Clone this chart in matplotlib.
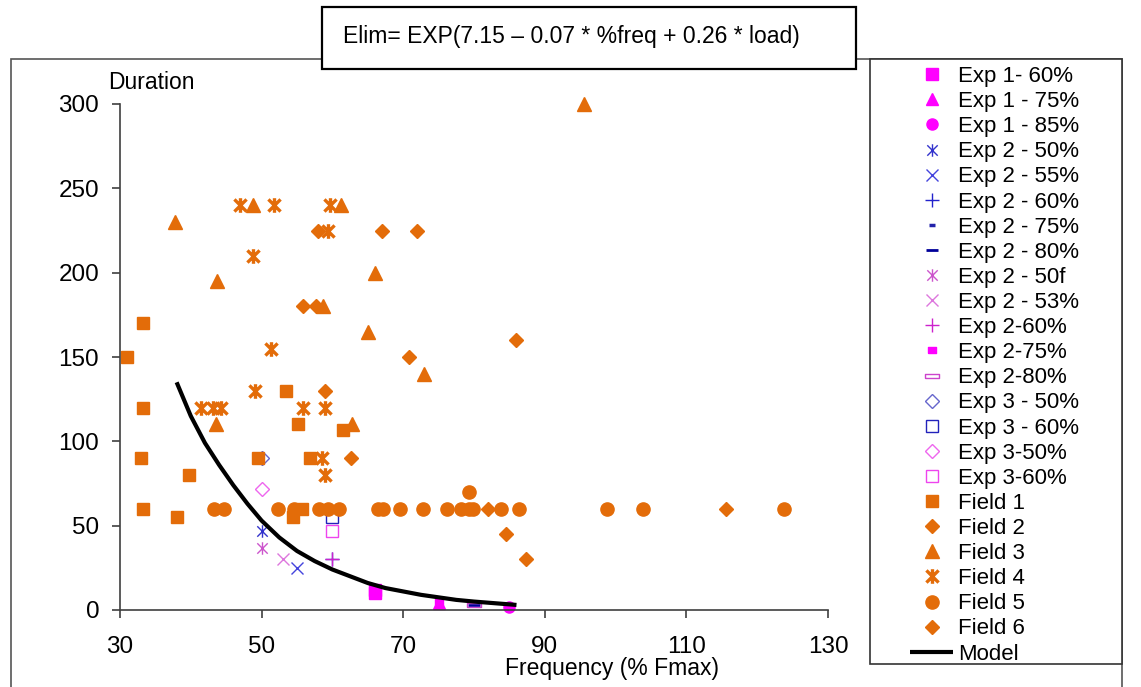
import matplotlib.pyplot as plt
from matplotlib.patches import Rectangle
from matplotlib.path import Path

plt.rcParams['font.family'] = ['Liberation Sans', 'DejaVu Sans']

# --- datos ---
exp1_60_x, exp1_60_y = [66, 66], [10, 12]
exp1_75_x, exp1_75_y = [75], [4]
exp1_85_x, exp1_85_y = [85], [2]
exp2_50_x, exp2_50_y = [50], [47]
exp2_55_x, exp2_55_y = [55], [25]
exp2_60_x, exp2_60_y = [60], [30]
exp2_75_x, exp2_75_y = [75], [5]
exp2_80_x, exp2_80_y = [80], [3]
exp2_50f_x, exp2_50f_y = [50], [37]
exp2_53_x, exp2_53_y = [53], [30]
exp2m_60_x, exp2m_60_y = [60], [30]
exp2m_75_x, exp2m_75_y = [75], [5]
exp2m_80_x, exp2m_80_y = [80], [3]
exp3_50_x, exp3_50_y = [50], [90]
exp3_60_x, exp3_60_y = [60], [55]
exp3m_50_x, exp3m_50_y = [50], [72]
exp3m_60_x, exp3m_60_y = [60], [47]

field1_x = [31, 33.3, 33.3, 33, 33.3, 38, 39.7, 49.5, 53.5, 55.2, 61.5, 56.8, 54.5, 55.7]
field1_y = [150, 170, 120, 90, 60, 55, 80, 90, 130, 110, 107, 90, 55, 60]
field2_x = [58, 67, 72, 55.8, 57.7, 70.8, 86, 59, 62.6]
field2_y = [225, 225, 225, 180, 180, 150, 160, 130, 90]
field3_x = [37.8, 48.8, 61.2, 95.5, 43.7, 66, 58.7, 65, 73, 43.6, 62.8]
field3_y = [230, 240, 240, 300, 195, 200, 180, 165, 140, 110, 110]
field4_x = [47, 51.7, 59.7, 59.4, 48.8, 51.3, 49, 41.4, 43.2, 44.3, 55.9, 59, 58.5, 59]
field4_y = [240, 240, 240, 225, 210, 155, 130, 120, 120, 120, 120, 120, 90, 80]
field5_x = [43.3, 44.7, 52.3, 54.6, 58.1, 59.4, 60.9, 66.4, 67.1, 69.6, 72.8, 76.2,
            78.1, 79.3, 79.8, 83.8, 86.4, 98.8, 103.9, 123.8, 79.3]
field5_y = [60] * 20 + [70]
field6_x = [82, 84.5, 87.3, 115.6]
field6_y = [60, 45, 30, 60]

model_x = [38, 40, 42, 44, 46, 48, 50, 52.5, 55, 57.5, 60, 62.5, 65, 67.5, 70,
           72.5, 75, 77.5, 80, 83, 86]
model_y = [135, 115, 99, 86, 74, 63, 53, 43, 35, 29, 24, 20, 16, 13, 11,
           9, 7.5, 6, 5, 4, 3]

etiquetas = ["Exp 1- 60%", "Exp 1 - 75%", "Exp 1 - 85%", "Exp 2 - 50%", "Exp 2 - 55%",
             "Exp 2 - 60%", "Exp 2 - 75%", "Exp 2 - 80%", "Exp 2 - 50f", "Exp 2 - 53%",
             "Exp 2-60%", "Exp 2-75%", "Exp 2-80%", "Exp 3 - 50%", "Exp 3 - 60%",
             "Exp 3-50%", "Exp 3-60%", "Field 1", "Field 2", "Field 3", "Field 4",
             "Field 5", "Field 6", "Model"]

NAR = '#E36C09'
MAG = '#FF00FF'
AZ = '#3333CC'
# marcador estrella estilo Excel: X con barra vertical
estrella = Path([(-1, -1), (1, 1), (-1, 1), (1, -1), (0, -1.2), (0, 1.2)],
                [Path.MOVETO, Path.LINETO, Path.MOVETO, Path.LINETO, Path.MOVETO, Path.LINETO])
rect_fino = Path([(-1, -0.35), (1, -0.35), (1, 0.35), (-1, 0.35), (-1, -0.35)])
rect_corto = Path([(-0.5, -0.4), (0.5, -0.4), (0.5, 0.4), (-0.5, 0.4), (-0.5, -0.4)])

fig = plt.figure(figsize=(11.41, 6.87), dpi=100)
ax = fig.add_axes([120 / 1141, 77 / 687, 708 / 1141, 506 / 687])

series = [
    (exp1_60_x, exp1_60_y, dict(marker='s', ms=8, color=MAG, mec=MAG)),
    (exp1_75_x, exp1_75_y, dict(marker='^', ms=8, color=MAG, mec=MAG)),
    (exp1_85_x, exp1_85_y, dict(marker='o', ms=8, color=MAG, mec=MAG)),
    (exp2_50_x, exp2_50_y, dict(marker=estrella, ms=9, mec=AZ, mew=1)),
    (exp2_55_x, exp2_55_y, dict(marker='x', ms=8, mec='#4444DD', mew=1)),
    (exp2_60_x, exp2_60_y, dict(marker='+', ms=10, mec='#2222CC', mew=1)),
    (exp2_75_x, exp2_75_y, dict(marker='_', ms=4, mec='#2222AA', mew=2.5)),
    (exp2_80_x, exp2_80_y, dict(marker='_', ms=9, mec='#000099', mew=2)),
    (exp2_50f_x, exp2_50f_y, dict(marker=estrella, ms=9, mec='#CC55CC', mew=1)),
    (exp2_53_x, exp2_53_y, dict(marker='x', ms=8, mec='#DD77DD', mew=1)),
    (exp2m_60_x, exp2m_60_y, dict(marker='+', ms=10, mec='#CC22CC', mew=1)),
    (exp2m_75_x, exp2m_75_y, dict(marker=rect_corto, ms=6, color=MAG, mec=MAG)),
    (exp2m_80_x, exp2m_80_y, dict(marker=rect_fino, ms=10, mfc='none', mec='#CC44CC', mew=1)),
    (exp3_50_x, exp3_50_y, dict(marker='D', ms=7, mfc='none', mec='#6666CC', mew=1)),
    (exp3_60_x, exp3_60_y, dict(marker='s', ms=9, mfc='none', mec='#2222BB', mew=1)),
    (exp3m_50_x, exp3m_50_y, dict(marker='D', ms=7, mfc='none', mec='#EE66EE', mew=1)),
    (exp3m_60_x, exp3m_60_y, dict(marker='s', ms=9, mfc='none', mec='#EE44EE', mew=1)),
    (field1_x, field1_y, dict(marker='s', ms=8.5, color=NAR, mec=NAR)),
    (field2_x, field2_y, dict(marker='D', ms=7.5, color=NAR, mec=NAR)),
    (field3_x, field3_y, dict(marker='^', ms=9.5, color=NAR, mec=NAR)),
    (field4_x, field4_y, dict(marker=estrella, ms=10.5, mec=NAR, mew=2.4)),
    (field5_x, field5_y, dict(marker='o', ms=9.5, color=NAR, mec=NAR)),
    (field6_x, field6_y, dict(marker='D', ms=7.5, color=NAR, mec=NAR)),
]

handles = []
for xs, ys, estilo in series:
    h, = ax.plot(xs, ys, linestyle='none', clip_on=False, **estilo)
    handles.append(h)
h, = ax.plot(model_x, model_y, color='black', lw=3, solid_capstyle='butt',
             solid_joinstyle='round')
handles.append(h)

ax.set_xlim(30, 130)
ax.set_ylim(0, 300)
ax.set_xticks([30, 50, 70, 90, 110, 130])
ax.set_yticks([0, 50, 100, 150, 200, 250, 300])
ax.spines['top'].set_visible(False)
ax.spines['right'].set_visible(False)
for s in ['left', 'bottom']:
    ax.spines[s].set_color('#404040')
    ax.spines[s].set_linewidth(1.2)
ax.tick_params(axis='both', direction='out', length=6, width=1.2, color='#404040',
               labelsize=17.5)
ax.tick_params(axis='x', pad=13)
ax.tick_params(axis='y', pad=9)

fig.text(108 / 1141, 1 - 89 / 687, "Duration", fontsize=16.5, va='baseline', ha='left')
fig.text(612 / 1141, 1 - 668 / 687, "Frequency (% Fmax)", fontsize=16.5,
         va='center', ha='center')

# marco exterior, caja de formula y caja de leyenda
fig.patches.append(Rectangle((11 / 1141, -0.05), (1122 - 11) / 1141, 0.05 + (687 - 59) / 687,
                             transform=fig.transFigure, fill=False, ec='#555555', lw=1.2))
fig.patches.append(Rectangle((322 / 1141, 1 - 69 / 687), (856 - 322) / 1141, 62 / 687,
                             transform=fig.transFigure, fc='white', ec='black', lw=1.6))
fig.patches.append(Rectangle((870 / 1141, 1 - 664 / 687), (1122 - 870) / 1141, 605 / 687,
                             transform=fig.transFigure, fc='white', ec='#333333', lw=1.2))
fig.text(343 / 1141, 1 - 43 / 687, "Elim= EXP(7.15 \u2013 0.07 * %freq + 0.26 * load)",
         fontsize=16.5, va='baseline', ha='left')

fig.legend(handles, etiquetas, loc='upper left', bbox_to_anchor=(910 / 1141, 1 - 66 / 687),
           frameon=False, fontsize=16, borderpad=0, borderaxespad=0, handlelength=1.95,
           handletextpad=0.2, labelspacing=0.185)

fig.savefig("out.png", dpi=100)
